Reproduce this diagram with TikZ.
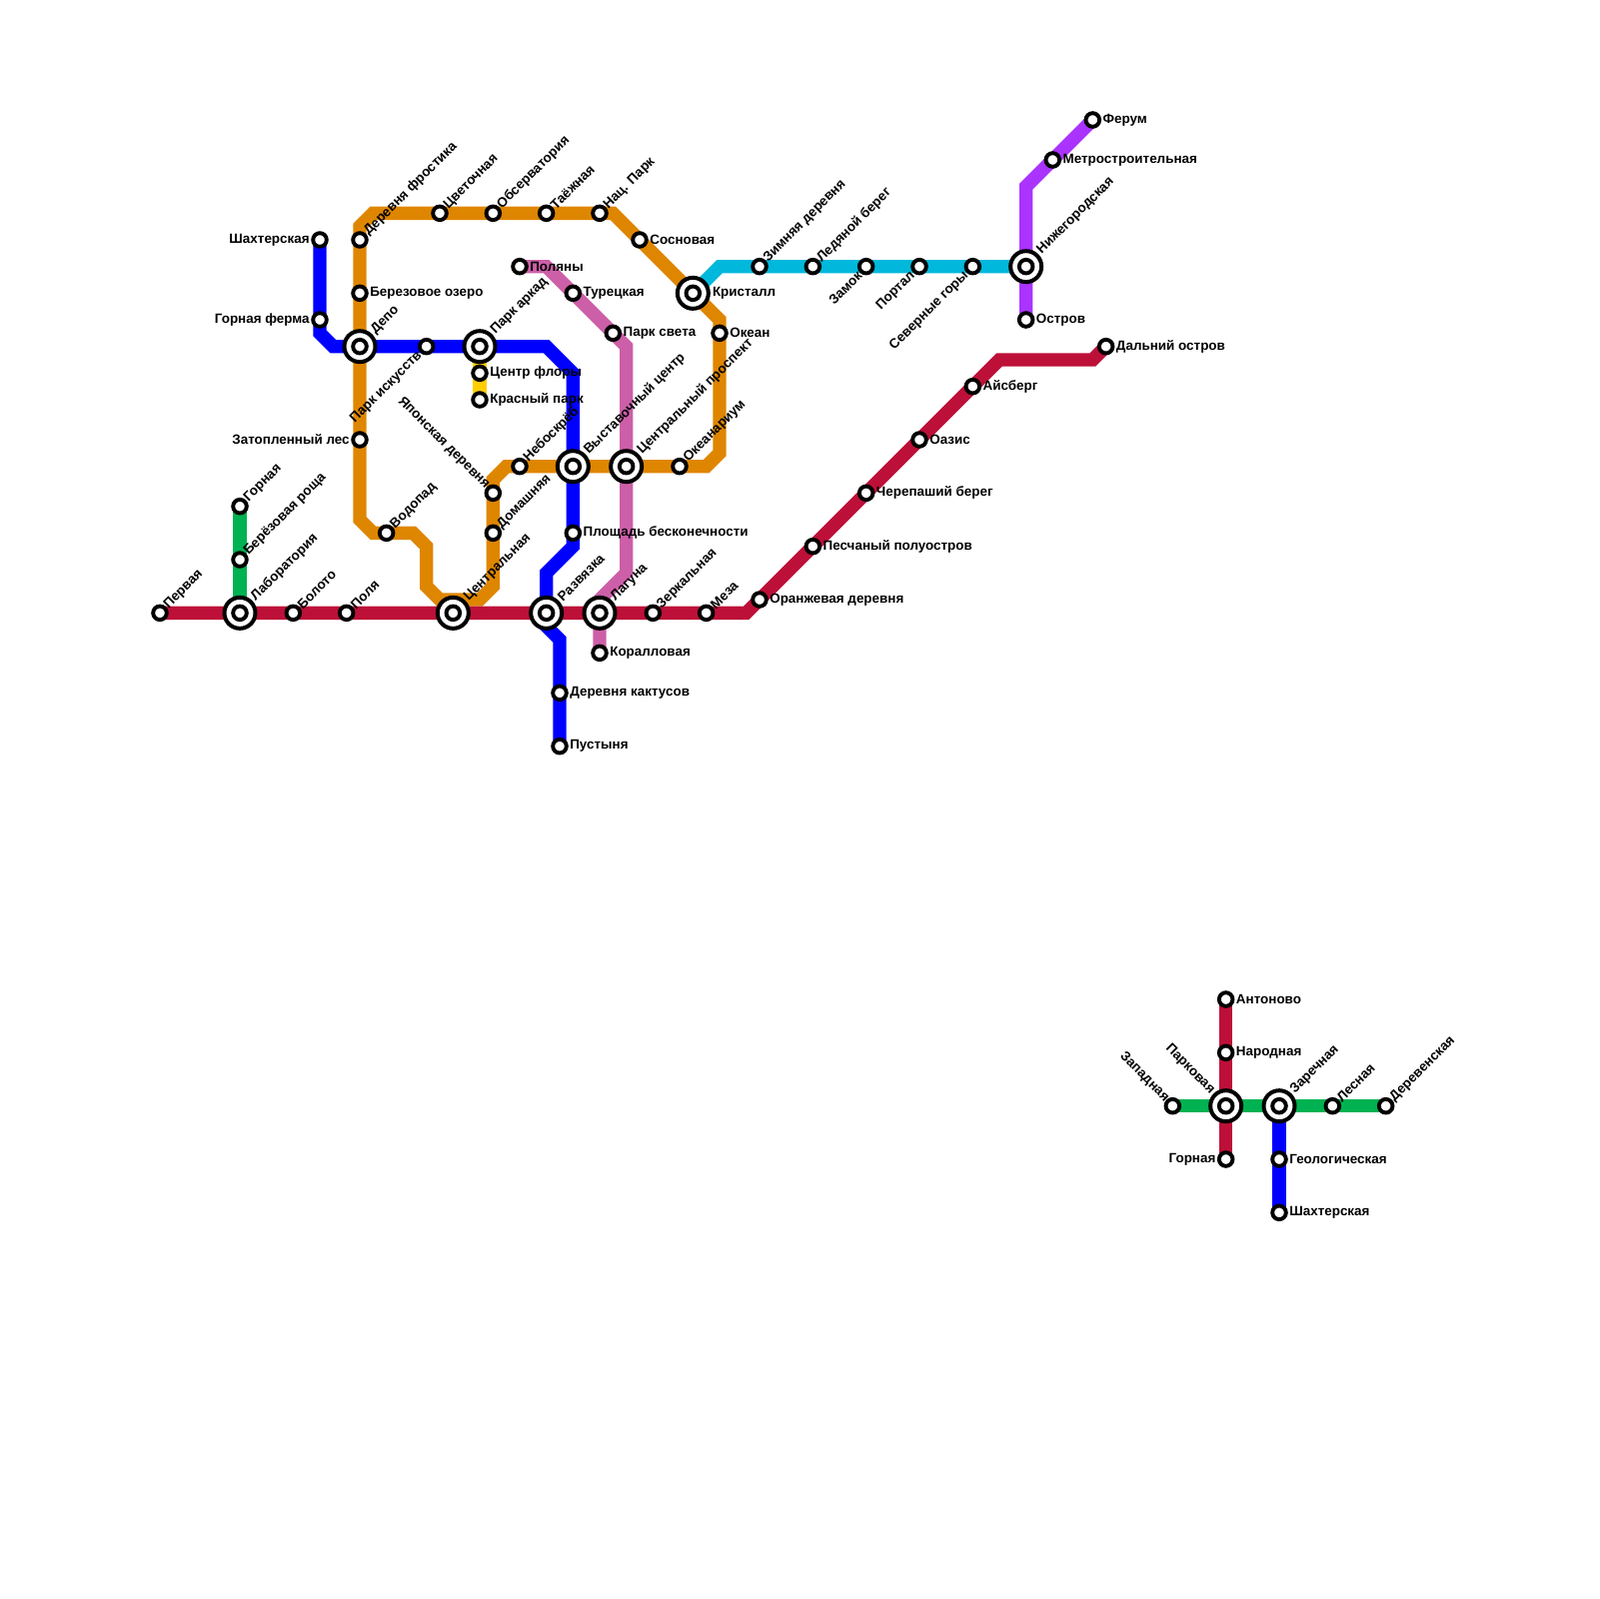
\documentclass[tikz,border=0pt]{standalone}
\usepackage{fontspec}
\setmainfont{Liberation Sans}
\usepackage{xcolor}
\usetikzlibrary{backgrounds}

\definecolor{linered}{HTML}{BD1038}
\definecolor{lineblue}{HTML}{0000FF}
\definecolor{lineorange}{HTML}{DF8600}
\definecolor{linepink}{HTML}{CC5FA8}
\definecolor{linegreen}{HTML}{00B251}
\definecolor{linecyan}{HTML}{00B8DC}
\definecolor{linepurple}{HTML}{AA33FF}
\definecolor{lineyellow}{HTML}{FFCE00}

\tikzset{
  station/.style={circle, draw=black, fill=white, line width=2.5pt, inner sep=0pt, minimum size=8.7pt},
  hub/.style={circle, draw=black, fill=white, line width=2.56pt, inner sep=0pt, minimum size=19.84pt},
  metro/.style={line width=3mm, line join=miter, line cap=butt},
  lbl/.style={inner sep=0pt, font=\bfseries\fontsize{8.6}{9.6}\selectfont},
  lblr/.style={lbl, xshift=6.4pt, yshift=0pt, anchor=west},
  lbll/.style={lbl, xshift=-6.4pt, yshift=0pt, anchor=east},
  lblur/.style={lbl, xshift=4pt, yshift=4pt, rotate=45, anchor=west},
  lblul/.style={lbl, xshift=-3.5pt, yshift=4pt, rotate=-45, anchor=east},
  lbldl/.style={lbl, xshift=-4pt, yshift=-4.5pt, rotate=45, anchor=east},
  lblhr/.style={lbl, xshift=12.4pt, yshift=0pt, anchor=west},
  lblhur/.style={lbl, xshift=8.5pt, yshift=9pt, rotate=45, anchor=west},
  lblhul/.style={lbl, xshift=-8.5pt, yshift=9pt, rotate=-45, anchor=east},
}

\begin{document}
\begin{tikzpicture}[x=3mm,y=-3mm]
	\useasboundingbox (0,0) rectangle (120,120);

	%---NODES---
	\node[station] (pervaya) at (12,46) {};
	\node[hub] (labor) at (18,46) {};
	\node[station] (laborin) at (18,46) {};
	\node[station] (boloto) at (22,46) {};
	\node[station] (polya) at (26,46) {};
	\node[hub] (central) at (34,46) {};
	\node[station] (centralin) at (34,46) {};
	\node[hub] (razvyazka) at (41,46) {};
	\node[station] (razvyazkain) at (41,46) {};
	\node[hub] (laguna) at (45,46) {};
	\node[station] (lagunain) at (45,46) {};
	\node[station] (zerkal) at (49,46) {};
	\node[station] (meza) at (53,46) {};
	\node[station] (orange) at (57,45) {};
	\node[station] (pesch) at (61,41) {};
	\node[station] (cherep) at (65,37) {};
	\node[station] (oazis) at (69,33) {};
	\node[station] (aisberg) at (73,29) {};
	\node[station] (dalny) at (83,26) {};

	\node[station] (gornaya) at (18,38) {};
	\node[station] (berez) at (18,42) {};

	\node[station] (shakht) at (24,18) {};
	\node[station] (ferma) at (24,24) {};
	\node[hub] (depo) at (27,26) {};
	\node[station] (depoin) at (27,26) {};
	\node[station] (iskusstv) at (32,26) {};
	\node[hub] (arkad) at (36,26) {};
	\node[station] (arkadin) at (36,26) {};
	\node[hub] (vystav) at (43,35) {};
	\node[station] (vystavin) at (43,35) {};
	\node[station] (ploshad) at (43,40) {};
	\node[station] (kaktus) at (42,52) {};
	\node[station] (pustynya) at (42,56) {};

	\node[station] (flora) at (36,28) {};
	\node[station] (krasny) at (36,30) {};

	\node[station] (frostik) at (27,18) {};
	\node[station] (ozero) at (27,22) {};
	\node[station] (zatop) at (27,33) {};
	\node[station] (vodopad) at (29,40) {};
	\node[station] (cvet) at (33,16) {};
	\node[station] (observ) at (37,16) {};
	\node[station] (taezh) at (41,16) {};
	\node[station] (nacpark) at (45,16) {};
	\node[station] (sosn) at (48,18) {};
	\node[hub] (kristall) at (52,22) {};
	\node[station] (kristallin) at (52,22) {};
	\node[station] (okean) at (54,25) {};
	\node[station] (okeanar) at (51,35) {};
	\node[hub] (prospekt) at (47,35) {};
	\node[station] (prospektin) at (47,35) {};
	\node[station] (nebo) at (39,35) {};
	\node[station] (yapon) at (37,37) {};
	\node[station] (domash) at (37,40) {};

	\node[station] (polyany) at (39,20) {};
	\node[station] (turec) at (43,22) {};
	\node[station] (svet) at (46,25) {};
	\node[station] (korall) at (45,49) {};

	\node[station] (zimn) at (57,20) {};
	\node[station] (ledyan) at (61,20) {};
	\node[station] (zamok) at (65,20) {};
	\node[station] (portal) at (69,20) {};
	\node[station] (sever) at (73,20) {};
	\node[hub] (nizhn) at (77,20) {};
	\node[station] (nizhnin) at (77,20) {};

	\node[station] (ostrov) at (77,24) {};
	\node[station] (metrostr) at (79,12) {};
	\node[station] (ferum) at (82,9) {};

	\node[station] (antonovo) at (92,75) {};
	\node[station] (narod) at (92,79) {};
	\node[hub] (parkov) at (92,83) {};
	\node[station] (parkovin) at (92,83) {};
	\node[station] (gornaya2) at (92,87) {};
	\node[station] (zapad) at (88,83) {};
	\node[hub] (zarech) at (96,83) {};
	\node[station] (zarechin) at (96,83) {};
	\node[station] (lesn) at (100,83) {};
	\node[station] (derev) at (104,83) {};
	\node[station] (geolog) at (96,87) {};
	\node[station] (shakht2) at (96,91) {};

	%---BENDS---
	\coordinate (r1) at (56,46);
	\coordinate (r2) at (75,27);
	\coordinate (r3) at (82,27);
	\coordinate (b1) at (24,25);
	\coordinate (b2) at (25,26);
	\coordinate (b3) at (41,26);
	\coordinate (b4) at (43,28);
	\coordinate (b5) at (43,41);
	\coordinate (b6) at (41,43);
	\coordinate (b7) at (41,47);
	\coordinate (b8) at (42,48);
	\coordinate (o1) at (27,17);
	\coordinate (o2) at (28,16);
	\coordinate (o3) at (46,16);
	\coordinate (o4) at (54,24);
	\coordinate (o5) at (54,34);
	\coordinate (o6) at (53,35);
	\coordinate (o7) at (38,35);
	\coordinate (o8) at (37,36);
	\coordinate (o9) at (37,44);
	\coordinate (o10) at (36,45);
	\coordinate (o11) at (33,45);
	\coordinate (o12) at (32,44);
	\coordinate (o13) at (32,41);
	\coordinate (o14) at (31,40);
	\coordinate (o15) at (28,40);
	\coordinate (o16) at (27,39);
	\coordinate (p1) at (41,20);
	\coordinate (p2) at (47,26);
	\coordinate (p3) at (47,43);
	\coordinate (p4) at (45,45);
	\coordinate (c1) at (54,20);
	\coordinate (v1) at (77,14);

	%---EDGES---
	\begin{scope}[on background layer]
	\draw[metro, lineorange] (frostik.center) -- (o1) -- (o2) -- (o3) -- (kristall.center) -- (o4) -- (o5) -- (o6) -- (o7) -- (o8) -- (o9) -- (o10) -- (o11) -- (o12) -- (o13) -- (o14) -- (o15) -- (o16) -- (frostik.center);
	\draw[metro, linepink] (polyany.center) -- (p1) -- (p2) -- (p3) -- (p4) -- (korall.center);
	\draw[metro, lineyellow] (arkad.center) -- (krasny.center);
	\draw[metro, lineblue] (shakht.center) -- (b1) -- (b2) -- (b3) -- (b4) -- (b5) -- (b6) -- (b7) -- (b8) -- (pustynya.center);
	\draw[metro, linegreen] (gornaya.center) -- (labor.center);
	\draw[metro, linered] (pervaya.center) -- (r1) -- (r2) -- (r3) -- (dalny.center);
	\draw[metro, linecyan] (kristall.center) -- (c1) -- (nizhn.center);
	\draw[metro, linepurple] (ostrov.center) -- (v1) -- (ferum.center);
	\draw[metro, linered] (antonovo.center) -- (gornaya2.center);
	\draw[metro, linegreen] (zapad.center) -- (derev.center);
	\draw[metro, lineblue] (zarech.center) -- (shakht2.center);
	\end{scope}

	%---LABELS---
	\node[lblur] (tpervaya) at (pervaya) {Первая};
	\node[lblhur] (tlabor) at (labor) {Лаборатория};
	\node[lblur] (tboloto) at (boloto) {Болото};
	\node[lblur] (tpolya) at (polya) {Поля};
	\node[lblhur] (tcentral) at (central) {Центральная};
	\node[lblhur] (trazvyazka) at (razvyazka) {Развязка};
	\node[lblhur] (tlaguna) at (laguna) {Лагуна};
	\node[lblur] (tzerkal) at (zerkal) {Зеркальная};
	\node[lblur] (tmeza) at (meza) {Меза};
	\node[lblr] (torange) at (orange) {Оранжевая деревня};
	\node[lblr] (tpesch) at (pesch) {Песчаный полуостров};
	\node[lblr] (tcherep) at (cherep) {Черепаший берег};
	\node[lblr] (toazis) at (oazis) {Оазис};
	\node[lblr] (taisberg) at (aisberg) {Айсберг};
	\node[lblr] (tdalny) at (dalny) {Дальний остров};

	\node[lblur] (tgornaya) at (gornaya) {Горная};
	\node[lblur] (tberez) at (berez) {Берёзовая роща};

	\node[lbll] (tshakht) at (shakht) {Шахтерская};
	\node[lbll] (tferma) at (ferma) {Горная ферма};
	\node[lblhur] (tdepo) at (depo) {Депо};
	\node[lbldl] (tiskusstv) at (iskusstv) {Парк искусств};
	\node[lblhur] (tarkad) at (arkad) {Парк аркад};
	\node[lblhur] (tvystav) at (vystav) {Выставочный центр};
	\node[lblr] (tploshad) at (ploshad) {Площадь бесконечности};
	\node[lblr] (tkaktus) at (kaktus) {Деревня кактусов};
	\node[lblr] (tpustynya) at (pustynya) {Пустыня};

	\node[lblr] (tflora) at (flora) {Центр флоры};
	\node[lblr] (tkrasny) at (krasny) {Красный парк};

	\node[lblur] (tfrostik) at (frostik) {Деревня фростика};
	\node[lblr] (tozero) at (ozero) {Березовое озеро};
	\node[lbll] (tzatop) at (zatop) {Затопленный лес};
	\node[lblur] (tvodopad) at (vodopad) {Водопад};
	\node[lblur] (tcvet) at (cvet) {Цветочная};
	\node[lblur] (tobserv) at (observ) {Обсерватория};
	\node[lblur] (ttaezh) at (taezh) {Таёжная};
	\node[lblur] (tnacpark) at (nacpark) {Нац. Парк};
	\node[lblr] (tsosn) at (sosn) {Сосновая};
	\node[lblhr] (tkristall) at (kristall) {Кристалл};
	\node[lblr] (tokean) at (okean) {Океан};
	\node[lblur] (tokeanar) at (okeanar) {Океанариум};
	\node[lblhur] (tprospekt) at (prospekt) {Центральный проспект};
	\node[lblur] (tnebo) at (nebo) {Небоскрёб};
	\node[lblul] (tyapon) at (yapon) {Японская деревня};
	\node[lblur] (tdomash) at (domash) {Домашняя};

	\node[lblr] (tpolyany) at (polyany) {Поляны};
	\node[lblr] (tturec) at (turec) {Турецкая};
	\node[lblr] (tsvet) at (svet) {Парк света};
	\node[lblr] (tkorall) at (korall) {Коралловая};

	\node[lblur] (tzimn) at (zimn) {Зимняя деревня};
	\node[lblur] (tledyan) at (ledyan) {Ледяной берег};
	\node[lbldl] (tzamok) at (zamok) {Замок};
	\node[lbldl] (tportal) at (portal) {Портал};
	\node[lbldl] (tsever) at (sever) {Северные горы};
	\node[lblhur] (tnizhn) at (nizhn) {Нижегородская};

	\node[lblr] (tostrov) at (ostrov) {Остров};
	\node[lblr] (tmetrostr) at (metrostr) {Метростроительная};
	\node[lblr] (tferum) at (ferum) {Ферум};

	\node[lblr] (tantonovo) at (antonovo) {Антоново};
	\node[lblr] (tnarod) at (narod) {Народная};
	\node[lblhul] (tparkov) at (parkov) {Парковая};
	\node[lbll] (tgornaya2) at (gornaya2) {Горная};
	\node[lblul] (tzapad) at (zapad) {Западная};
	\node[lblhur] (tzarech) at (zarech) {Заречная};
	\node[lblur] (tlesn) at (lesn) {Лесная};
	\node[lblur] (tderev) at (derev) {Деревенская};
	\node[lblr] (tgeolog) at (geolog) {Геологическая};
	\node[lblr] (tshakht2) at (shakht2) {Шахтерская};

\end{tikzpicture}
\end{document}
